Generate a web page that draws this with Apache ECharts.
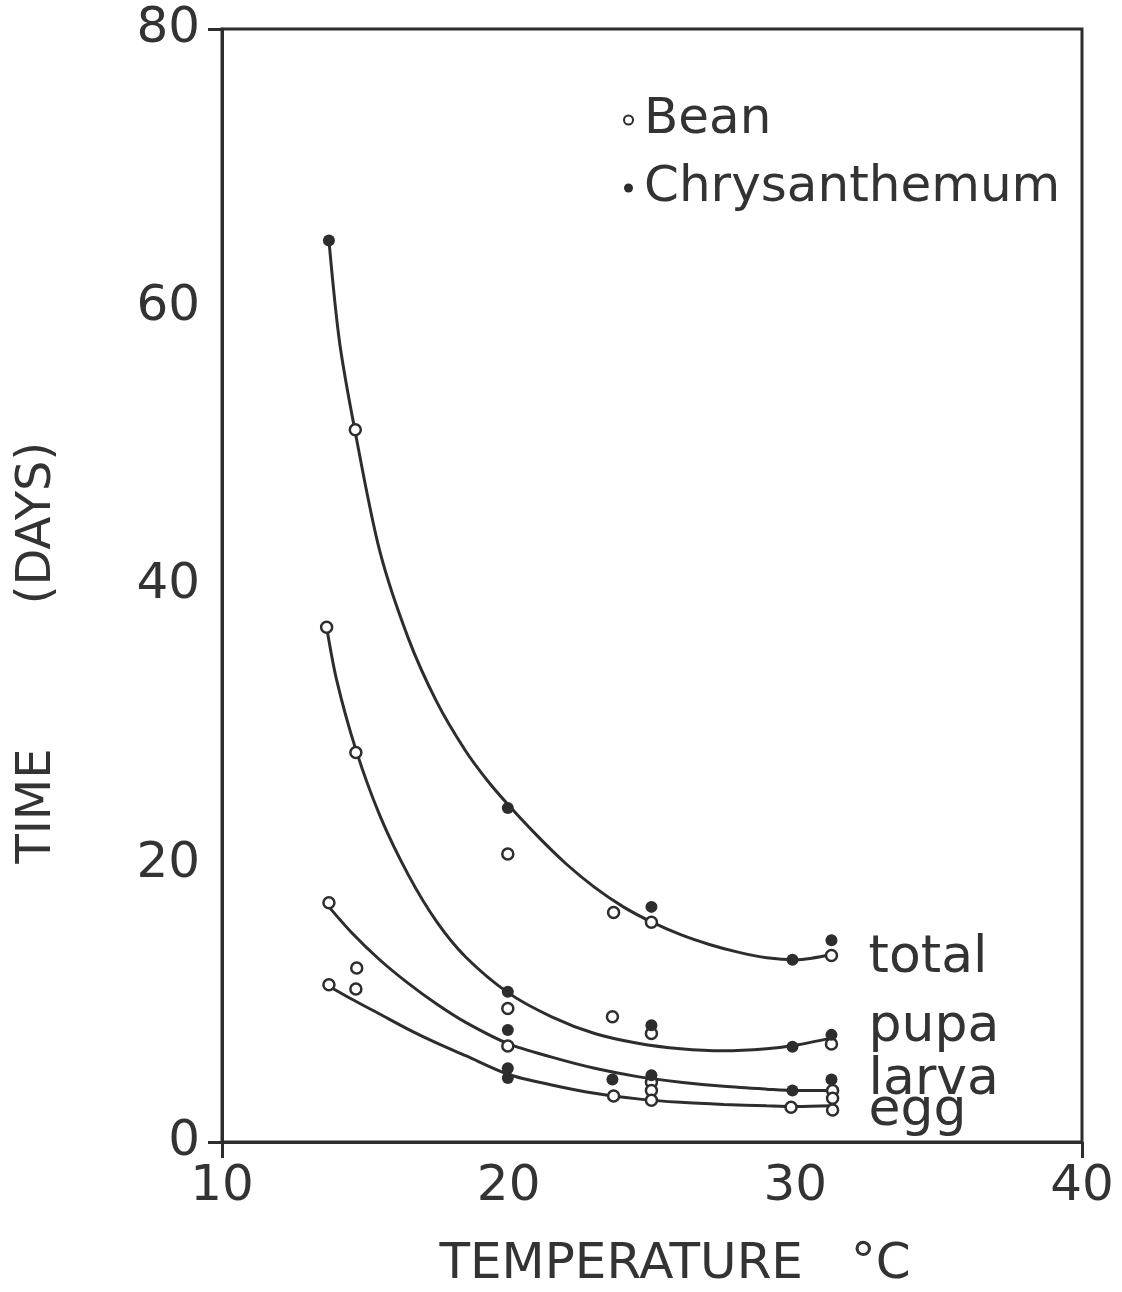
<!DOCTYPE html>
<html><head><meta charset="utf-8">
<script src="https://cdn.jsdelivr.net/npm/echarts@6/dist/echarts.min.js"></script>
<style>html,body{margin:0;padding:0;background:#fff}#c{width:1122px;height:1292px}</style>
</head><body><div id="c"></div>
<script>
// Observed points [temperature °C, days]
const chrysTotal = [[13.73,64.8],[19.97,24.0],[24.98,16.9],[29.9,13.1],[31.26,14.5]];
const beanTotal  = [[14.65,51.2],[19.97,20.7],[23.66,16.5],[24.98,15.8],[31.26,13.4]];
const chrysPupa  = [[19.97,10.8],[24.98,8.4],[29.9,6.85],[31.26,7.7]];
const beanPupa   = [[13.65,37.0],[14.67,28.0],[19.97,9.6],[23.62,9.0],[24.98,7.8],[31.26,7.05]];
const chrysLarva = [[19.97,8.05],[23.62,4.5],[24.98,4.8],[29.9,3.7],[31.26,4.5]];
const beanLarva  = [[13.73,17.2],[14.7,12.5],[19.97,6.9],[24.98,4.3],[31.3,3.7]];
const chrysEgg   = [[19.97,5.3],[19.97,4.6]];
const beanEgg    = [[13.73,11.3],[14.67,11.0],[23.66,3.3],[24.98,3.7],[24.98,3.0],[29.85,2.5],[31.3,3.15],[31.3,2.3]];

// Fitted curves as drawn
const totalCurve = [[13.73,64.8],[14.1,57.5],[14.65,51.0],[15.5,42.5],[16.5,36.2],[17.5,31.6],[18.5,28.1],[19.25,26.0],[20,24.2],[21,22.0],[22,20.0],[23,18.3],[24,16.9],[25,15.8],[26,14.9],[27,14.2],[28,13.65],[29,13.25],[30,13.1],[31.3,13.5]];
const pupaCurve  = [[13.65,37.0],[14.0,33.2],[14.67,28.2],[15.5,23.5],[16.5,19.2],[17.5,15.8],[18.5,13.3],[20,10.7],[21.5,9.0],[23,7.8],[24.5,7.1],[26,6.7],[27.5,6.55],[29,6.7],[30,6.95],[31.3,7.5]];
const larvaCurve = [[13.73,16.9],[14.5,15.1],[15.5,13.1],[16.5,11.4],[17.5,9.9],[18.5,8.6],[20,7.05],[21.5,6.1],[23,5.3],[24.5,4.7],[26,4.3],[27.5,4.0],[29,3.8],[30,3.7],[31.3,3.7]];
const eggCurve   = [[13.73,11.2],[14.5,10.3],[15.5,9.2],[16.5,8.1],[17.5,7.1],[18.5,6.2],[20,4.85],[21.5,4.1],[23,3.5],[24.5,3.1],[26,2.85],[27.5,2.7],[29,2.6],[30,2.55],[31.3,2.6]];

const xTicks = [10,20,30,40];
const yTicks = [0,20,40,60,80];
const stageNames = ['total','pupa','larva','egg'];
const hostNames = ['Bean','Chrysanthemum'];

const INK = '#2d2d2d';
const FONT = 'DejaVu Sans';

const chart = echarts.init(document.getElementById('c'), null, {renderer:'canvas'});

function curve(name, data, offY) {
  return {
    name, type:'line', data, smooth:0.3, showSymbol:false, symbol:'none',
    xAxisIndex:0, yAxisIndex:0, silent:true,
    lineStyle:{color:INK, width:3},
    endLabel:{show:true, formatter:name, color:'#333', fontFamily:FONT, fontSize:52, distance:36, offset:[0,offY]},
    z:2
  };
}

chart.setOption({
  animation:false,
  backgroundColor:'#fff',
  grid:{left:222, right:40, top:29, bottom:150, show:true, borderColor:INK, borderWidth:3, backgroundColor:'transparent'},
  legend:{
    show:true, orient:'vertical', left:618, top:90, itemGap:18,
    itemWidth:9, itemHeight:9,
    data:[{name:hostNames[0], icon:'circle'},{name:hostNames[1], icon:'circle'}],
    textStyle:{color:'#333', fontFamily:FONT, fontSize:50, padding:[0,0,0,6]},
    selectedMode:false
  },
  xAxis:[
    {type:'value', min:xTicks[0], max:xTicks[xTicks.length-1], interval:10, position:'bottom',
     axisLine:{show:true, lineStyle:{color:INK, width:3}}, axisTick:{show:false}, splitLine:{show:false},
     axisLabel:{color:'#333', fontFamily:FONT, fontSize:50, margin:20, formatter:v=>xTicks.includes(v)?String(v):''}},
    {type:'value', min:10, max:40, interval:30, position:'bottom',
     axisLine:{show:false}, axisTick:{show:true, length:16, lineStyle:{color:INK, width:3}}, axisLabel:{show:false}, splitLine:{show:false}}
  ],
  yAxis:[
    {type:'value', min:yTicks[0], max:yTicks[yTicks.length-1], interval:20, position:'left',
     axisLine:{show:true, lineStyle:{color:INK, width:3}}, axisTick:{show:false}, splitLine:{show:false},
     axisLabel:{color:'#333', fontFamily:FONT, fontSize:50, margin:22, formatter:v=>yTicks.includes(v)?String(v):''}},
    {type:'value', min:0, max:80, interval:80, position:'left',
     axisLine:{show:false}, axisTick:{show:true, length:14, lineStyle:{color:INK, width:3}}, axisLabel:{show:false}, splitLine:{show:false}}
  ],
  graphic:[
    {type:'text', x:675, y:1265, style:{text:'TEMPERATURE   °C', fontFamily:FONT, fontSize:50, fill:'#333', align:'center', verticalAlign:'middle'}},
    {type:'text', x:38, y:806, rotation:Math.PI/2, style:{text:'TIME', fontFamily:FONT, fontSize:48, fill:'#333', align:'center', verticalAlign:'middle'}},
    {type:'text', x:38, y:523, rotation:Math.PI/2, style:{text:'(DAYS)', fontFamily:FONT, fontSize:48, fill:'#333', align:'center', verticalAlign:'middle'}}
  ],
  series:[
    curve(stageNames[0], totalCurve, 4),
    curve(stageNames[1], pupaCurve, -10),
    curve(stageNames[2], larvaCurve, -10),
    curve(stageNames[3], eggCurve, 6),
    {name:hostNames[0], type:'scatter', symbol:'circle', symbolSize:11,
     data:[].concat(beanTotal, beanPupa, beanLarva, beanEgg),
     itemStyle:{color:'#fff', borderColor:INK, borderWidth:2.5, opacity:1}, z:5},
    {name:hostNames[1], type:'scatter', symbol:'circle', symbolSize:12,
     data:[].concat(chrysTotal, chrysPupa, chrysLarva, chrysEgg),
     itemStyle:{color:INK, borderColor:INK, borderWidth:0, opacity:1}, z:6}
  ]
});
</script></body></html>
